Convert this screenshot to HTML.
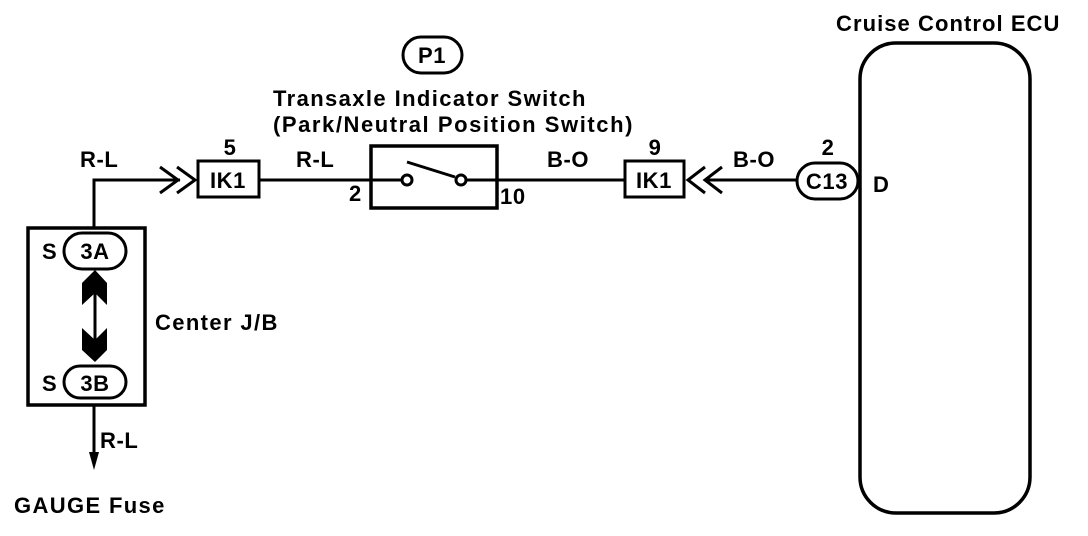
<!DOCTYPE html>
<html><head><meta charset="utf-8"><style>
html,body{margin:0;padding:0;background:#fff;}
svg{display:block;}
text{font-family:"Liberation Sans",Arial,sans-serif;fill:#000;font-weight:bold;letter-spacing:0.6px;}
</style></head><body>
<svg width="1088" height="536" viewBox="0 0 1088 536" xmlns="http://www.w3.org/2000/svg">
<g stroke="#000" fill="none" stroke-width="3">
<rect x="860" y="43" width="170" height="470" rx="36" ry="36" stroke-width="3.5"/>
<rect x="403" y="37" width="59" height="36" rx="18" ry="18"/>
<polyline points="94,228 94,180 180,180"/>
<polyline points="160,167 178,180 160,193"/>
<polyline points="177,167 195,180 177,193"/>
<rect x="198" y="161" width="61" height="36"/>
<line x1="259" y1="180" x2="370" y2="180"/>
<rect x="371" y="146" width="126" height="62" stroke-width="3.5"/>
<line x1="371" y1="180" x2="402" y2="180"/>
<circle cx="407" cy="180" r="5"/>
<circle cx="461" cy="180" r="5"/>
<line x1="466" y1="180" x2="497" y2="180"/>
<line x1="407" y1="162" x2="455" y2="177"/>
<line x1="497" y1="180" x2="625" y2="180"/>
<rect x="625" y="161" width="59" height="36"/>
<polyline points="705,167 688,180 705,193"/>
<polyline points="722,167 705,180 722,193"/>
<line x1="705" y1="180" x2="797" y2="180"/>
<rect x="797" y="163" width="61" height="36" rx="18" ry="18"/>
<rect x="28" y="228" width="117" height="177" stroke-width="3.5"/>
<rect x="64" y="233" width="62" height="36" rx="18" ry="18"/>
<rect x="64" y="366" width="62" height="32" rx="16" ry="16"/>
<line x1="95" y1="290" x2="95" y2="340"/>
<line x1="94" y1="405" x2="94" y2="455"/>
</g>
<g fill="#000">
<polygon points="95,270 107,283 107,305 95,293 82,305 82,283"/>
<polygon points="95,362 107,350 107,328 95,340 82,328 82,350"/>
<polygon points="89,452 99,452 94,470"/>
</g>
<g font-size="22">
<text x="836" y="31" textLength="224" lengthAdjust="spacing">Cruise Control ECU</text>
<text x="432" y="63" text-anchor="middle">P1</text>
<text x="273" y="106" textLength="313" lengthAdjust="spacing">Transaxle Indicator Switch</text>
<text x="273" y="132" textLength="360" lengthAdjust="spacing">(Park/Neutral Position Switch)</text>
<text x="80" y="167">R-L</text>
<text x="230" y="155" text-anchor="middle">5</text>
<text x="228" y="188" text-anchor="middle">IK1</text>
<text x="296" y="167">R-L</text>
<text x="349" y="201">2</text>
<text x="500" y="204">10</text>
<text x="547" y="167">B-O</text>
<text x="655" y="155" text-anchor="middle">9</text>
<text x="654" y="188" text-anchor="middle">IK1</text>
<text x="733" y="167">B-O</text>
<text x="828" y="155" text-anchor="middle">2</text>
<text x="827" y="189" text-anchor="middle">C13</text>
<text x="873" y="192">D</text>
<text x="42" y="259">S</text>
<text x="95" y="259" text-anchor="middle">3A</text>
<text x="42" y="391">S</text>
<text x="95" y="391" text-anchor="middle">3B</text>
<text x="155" y="330" textLength="123" lengthAdjust="spacing">Center J/B</text>
<text x="100" y="448">R-L</text>
<text x="14" y="513" textLength="151" lengthAdjust="spacing">GAUGE Fuse</text>
</g>
</svg>
</body></html>
